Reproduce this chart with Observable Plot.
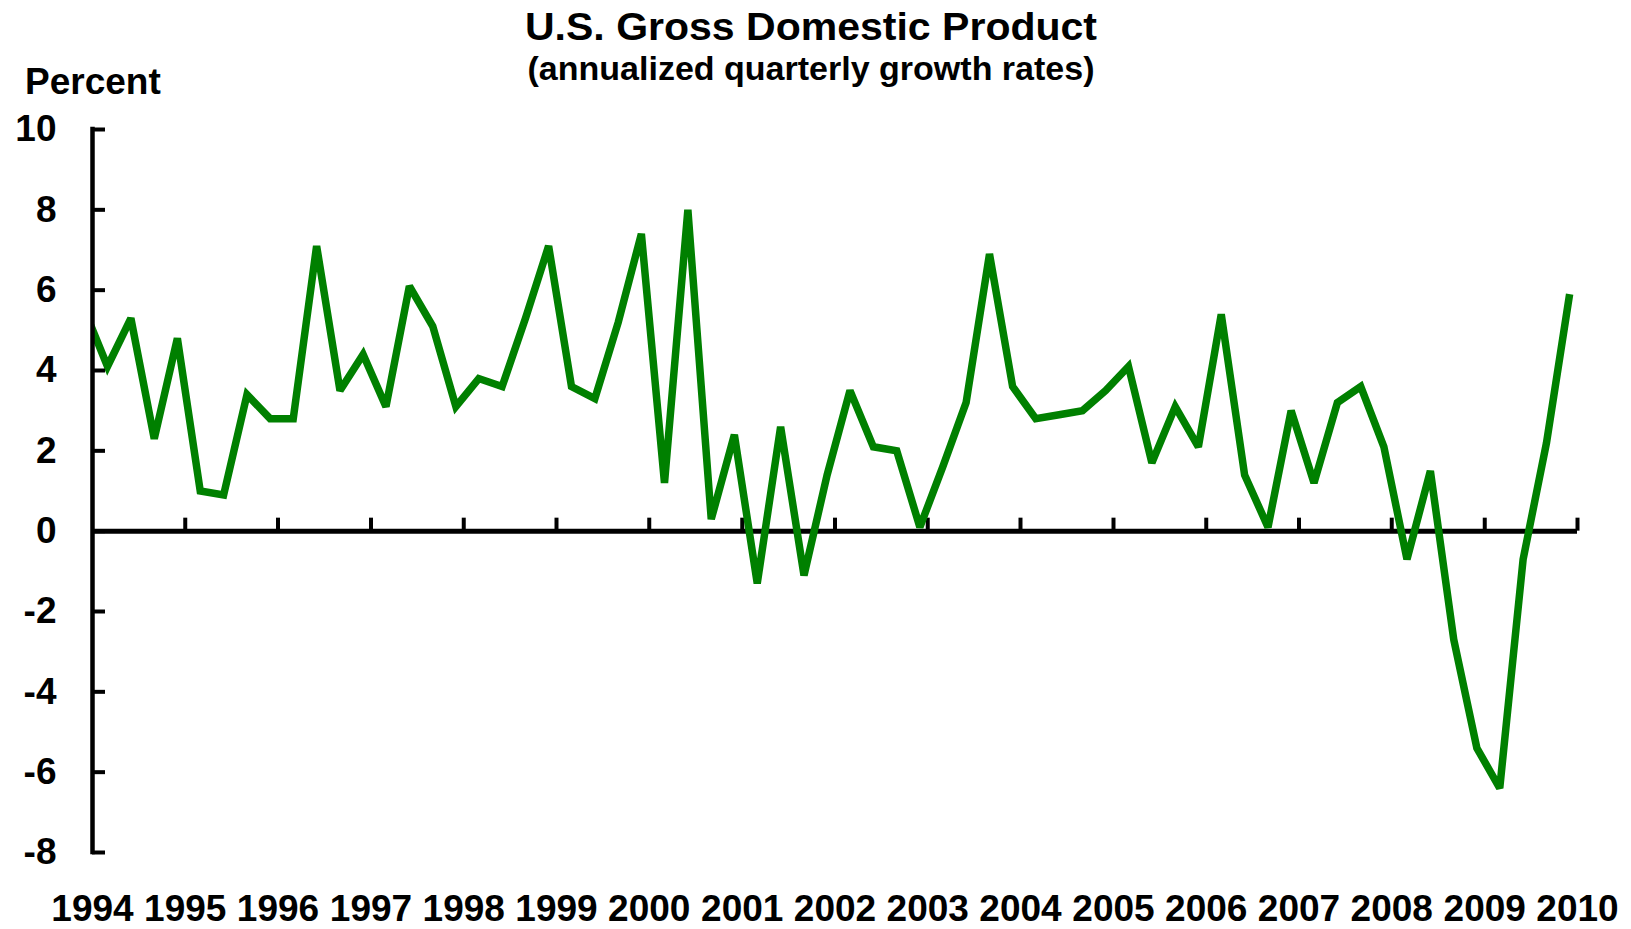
<!DOCTYPE html>
<html>
<head>
<meta charset="utf-8">
<script src="https://cdn.jsdelivr.net/npm/d3@7"></script>
<script src="https://cdn.jsdelivr.net/npm/@observablehq/plot@0.6"></script>
<style>
  html, body { margin: 0; padding: 0; background: #ffffff; }
  #wrap { width: 1631px; height: 929px; font-family: "Liberation Sans", Arial, sans-serif; }
  #header { display: block; }
  #header text { font-family: "Liberation Sans", Arial, sans-serif; font-weight: bold; fill: #000; }
  #chart svg { display: block; }
  #chart svg text { font-weight: bold; }
</style>
</head>
<body>
<div id="wrap">
  <svg id="header" width="1631" height="104" viewBox="0 0 1631 104">
    <text x="811" y="40" text-anchor="middle" font-size="39" textLength="572" lengthAdjust="spacingAndGlyphs">U.S. Gross Domestic Product</text>
    <text x="811" y="80" text-anchor="middle" font-size="34" textLength="567" lengthAdjust="spacingAndGlyphs">(annualized quarterly growth rates)</text>
    <text x="25" y="94" text-anchor="start" font-size="37">Percent</text>
  </svg>
  <div id="chart"></div>
</div>
<script>
// Quarterly periods (plotted at the start of the quarter's last month)
const quarters = [
  "1993Q4",
  "1994Q1","1994Q2","1994Q3","1994Q4",
  "1995Q1","1995Q2","1995Q3","1995Q4",
  "1996Q1","1996Q2","1996Q3","1996Q4",
  "1997Q1","1997Q2","1997Q3","1997Q4",
  "1998Q1","1998Q2","1998Q3","1998Q4",
  "1999Q1","1999Q2","1999Q3","1999Q4",
  "2000Q1","2000Q2","2000Q3","2000Q4",
  "2001Q1","2001Q2","2001Q3","2001Q4",
  "2002Q1","2002Q2","2002Q3","2002Q4",
  "2003Q1","2003Q2","2003Q3","2003Q4",
  "2004Q1","2004Q2","2004Q3","2004Q4",
  "2005Q1","2005Q2","2005Q3","2005Q4",
  "2006Q1","2006Q2","2006Q3","2006Q4",
  "2007Q1","2007Q2","2007Q3","2007Q4",
  "2008Q1","2008Q2","2008Q3","2008Q4",
  "2009Q1","2009Q2","2009Q3","2009Q4"
];

// Annualized quarterly real GDP growth, percent
const gdpGrowth = [
  5.5,
  4.1, 5.3, 2.3, 4.8,
  1.0, 0.9, 3.4, 2.8,
  2.8, 7.1, 3.5, 4.4,
  3.1, 6.1, 5.1, 3.1,
  3.8, 3.6, 5.3, 7.1,
  3.6, 3.3, 5.2, 7.4,
  1.2, 8.0, 0.3, 2.4,
  -1.3, 2.6, -1.1, 1.4,
  3.5, 2.1, 2.0, 0.1,
  1.6, 3.2, 6.9, 3.6,
  2.8, 2.9, 3.0, 3.5,
  4.1, 1.7, 3.1, 2.1,
  5.4, 1.4, 0.1, 3.0,
  1.2, 3.2, 3.6, 2.1,
  -0.7, 1.5, -2.7, -5.4,
  -6.4, -0.7, 2.2, 5.9
];

const yTicks = [-8, -6, -4, -2, 0, 2, 4, 6, 8, 10];
const yearTicks = [1994, 1995, 1996, 1997, 1998, 1999, 2000, 2001, 2002, 2003, 2004, 2005, 2006, 2007, 2008, 2009, 2010];

const quarterDate = q => new Date(Date.UTC(+q.slice(0, 4), +q.slice(5) * 3 - 1, 1));
const series = quarters.map((q, i) => ({date: quarterDate(q), value: gdpGrowth[i]}));
const yearDates = yearTicks.map(y => new Date(Date.UTC(y, 0, 1)));
const xStart = yearDates[0];

const chart = Plot.plot({
  width: 1631,
  height: 825,
  marginLeft: 92,
  marginRight: 54,
  marginTop: 25,
  marginBottom: 77,
  style: {
    fontFamily: '"Liberation Sans", Arial, sans-serif',
    fontSize: "37px",
    background: "#ffffff",
    color: "#000000",
    overflow: "visible"
  },
  x: {type: "utc", domain: [yearDates[0], yearDates[yearDates.length - 1]]},
  y: {domain: [yTicks[0], yTicks[yTicks.length - 1]]},
  marks: [
    // x axis line at zero
    Plot.ruleY([0], {stroke: "#000", strokeWidth: 5}),
    // year ticks pointing up from the zero line
    Plot.ruleX(yearDates.slice(1), {x: d => d, y1: () => 0, y2: () => 0, insetBottom: 13, stroke: "#000", strokeWidth: 4}),
    // GDP line
    Plot.line(series, {
      x: "date", y: "value",
      stroke: "#008000", strokeWidth: 7.5,
      strokeLinejoin: "miter", strokeMiterlimit: 2.5, strokeLinecap: "butt",
      clip: true
    }),
    // y axis line
    Plot.ruleX([xStart], {stroke: "#000", strokeWidth: 4.5, strokeLinecap: "square"}),
    // y ticks pointing inward
    Plot.ruleY(yTicks, {y: d => d, x1: () => xStart, x2: () => xStart, insetRight: -13, stroke: "#000", strokeWidth: 4}),
    Plot.axisY(yTicks, {
      anchor: "left", tickSize: 0, tickPadding: 36,
      tickFormat: d => String(d), fontSize: 37, fontWeight: "bold", label: null
    }),
    Plot.axisX(yearDates, {
      anchor: "bottom", tickSize: 0, tickPadding: 42,
      tickFormat: d => String(d.getUTCFullYear()), fontSize: 37, fontWeight: "bold", label: null
    })
  ]
});

document.getElementById("chart").appendChild(chart);
</script>
</body>
</html>
